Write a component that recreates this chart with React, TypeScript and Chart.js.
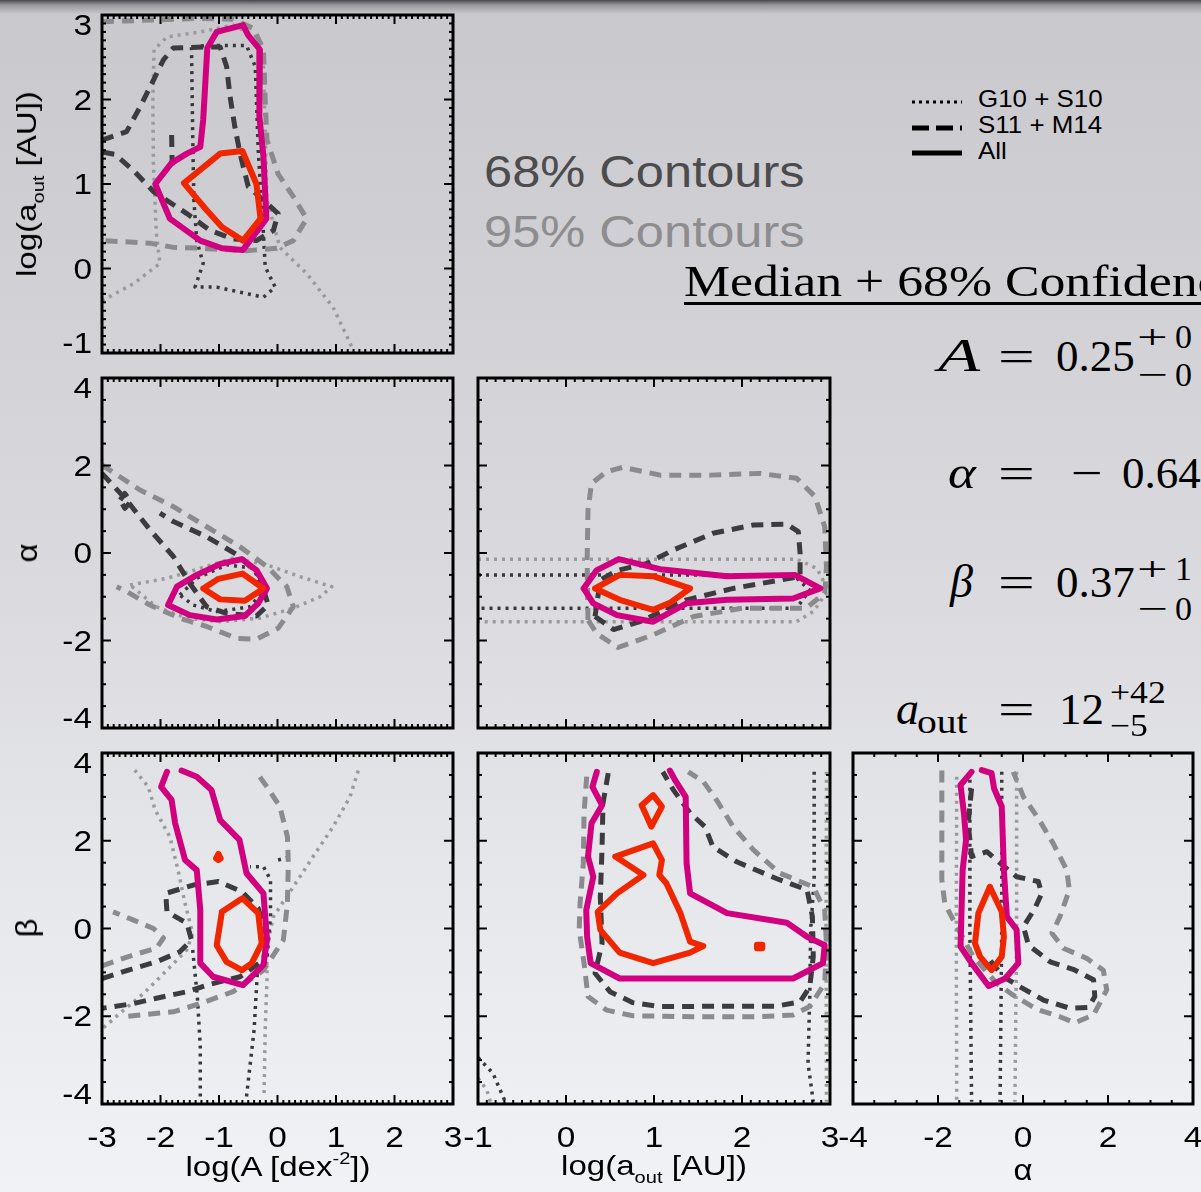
import React, { useEffect, useRef } from "react";
import { Chart, registerables } from "chart.js";

Chart.register(...registerables);

type Pt = [number, number];

// ---------------- tick labels ----------------
const ticksLogA = [-3, -2, -1, 0, 1, 2, 3];
const ticksLogAoutX = [-1, 0, 1, 2, 3];
const ticksLogAoutY = [3, 2, 1, 0, -1];
const ticksAlphaBetaY = [4, 2, 0, -2, -4];
const ticksAlphaX = [-4, -2, 0, 2, 4];

// ---------------- Panel 1: log(A) vs log(a_out) ----------------
const p1All68: Pt[] = [[-1.60, 1.01], [-0.98, 1.36], [-0.60, 1.39], [-0.36, 1.00], [-0.29, 0.59], [-0.59, 0.33], [-0.95, 0.49], [-1.21, 0.69]];
const p1All95: Pt[] = [[-0.59, 2.88], [-0.50, 2.76], [-0.30, 2.59], [-0.31, 1.80], [-0.24, 1.32], [-0.19, 0.59], [-0.59, 0.22], [-0.95, 0.24], [-1.32, 0.33], [-1.84, 0.59], [-2.09, 1.00], [-1.81, 1.25], [-1.55, 1.36], [-1.32, 1.44], [-1.27, 1.76], [-1.20, 2.61], [-1.04, 2.80]];
const p1Dash68: Pt[] = [[-3.0, 1.52], [-2.58, 1.62], [-2.35, 1.91], [-2.12, 2.23], [-1.95, 2.47], [-1.78, 2.61], [-1.27, 2.62], [-0.98, 2.62], [-0.87, 2.39], [-0.81, 2.03], [-0.73, 1.68], [-0.64, 1.36], [-0.50, 0.97], [0.01, 0.65], [-0.07, 0.45], [-0.36, 0.33], [-0.76, 0.35], [-1.15, 0.45], [-1.55, 0.65], [-2.12, 0.91], [-2.46, 1.16], [-2.78, 1.35], [-3.0, 1.38]];
const p1Dash68b: Pt[] = [[-1.81, 1.58], [-1.80, 1.22]];
const p1Dash95: Pt[] = [[-3.0, 2.92], [-2.18, 2.94], [-1.32, 2.96], [-0.76, 2.95], [-0.41, 2.84], [-0.24, 2.59], [-0.21, 1.99], [-0.18, 1.52], [0.01, 1.12], [0.27, 0.85], [0.50, 0.59], [0.27, 0.33], [-0.01, 0.24], [-0.53, 0.21], [-1.32, 0.24], [-1.78, 0.25], [-2.18, 0.30], [-3.0, 0.33]];
const p1Dot68: Pt[] = [[-1.47, 2.62], [-1.45, 1.60], [-1.43, 0.81], [-1.38, 0.33], [-1.27, 0.06], [-1.41, -0.22], [-1.04, -0.22], [-0.64, -0.28], [-0.24, -0.34], [-0.04, -0.22], [-0.21, 0.02], [-0.24, 0.41], [-0.33, 1.40], [-0.38, 2.39], [-0.53, 2.64], [-1.21, 2.64]];
const p1Dot95: Pt[] = [[-3.0, -0.38], [-2.46, -0.18], [-2.01, 0.06], [-2.07, 0.41], [-2.12, 1.20], [-2.13, 1.99], [-2.11, 2.59], [-1.89, 2.74], [-1.32, 2.80], [-0.76, 2.88], [-0.36, 2.74], [-0.24, 2.39], [-0.21, 1.60], [-0.18, 0.81], [0.04, 0.25], [0.50, -0.06], [0.95, -0.46], [1.30, -0.97]];

// ---------------- Panel 2: log(A) vs alpha ----------------
const p2All68: Pt[] = [[-1.27, -0.81], [-1.01, -0.59], [-0.60, -0.47], [-0.24, -0.81], [-0.56, -1.09], [-0.98, -1.06]];
const p2All95: Pt[] = [[-1.87, -1.19], [-1.72, -0.77], [-1.38, -0.50], [-0.98, -0.25], [-0.61, -0.14], [-0.36, -0.39], [-0.18, -0.81], [-0.33, -1.15], [-0.56, -1.44], [-1.04, -1.52], [-1.50, -1.42]];
const p2Dash68: Pt[] = [[-3.0, 1.82], [-2.58, 1.21], [-2.18, 0.53], [-1.78, -0.08], [-1.50, -0.69], [-1.21, -1.23], [-0.87, -1.38], [-0.36, -1.44], [-0.16, -1.19], [-0.30, -0.54], [-0.64, -0.08], [-1.21, 0.37], [-1.78, 0.72], [-2.01, 0.91]];
const p2Dash68b: Pt[] = [[-2.69, 1.21], [-2.61, 1.36], [-2.51, 1.17], [-2.61, 1.02]];
const p2Dash95: Pt[] = [[-3.0, 2.01], [-2.35, 1.44], [-1.78, 1.06], [-1.21, 0.60], [-0.64, 0.14], [-0.18, -0.31], [0.16, -0.77], [0.27, -1.23], [0.01, -1.72], [-0.36, -1.97], [-0.70, -1.95], [-1.21, -1.68], [-1.67, -1.49], [-2.18, -1.19], [-2.58, -0.88], [-2.75, -0.77]];
const p2Dot68: Pt[] = [[-1.67, -0.96], [-1.38, -0.58], [-0.87, -0.27], [-0.41, -0.35], [-0.24, -0.85], [-0.47, -1.23], [-1.04, -1.34], [-1.44, -1.19]];
const p2Dot95: Pt[] = [[-2.52, -0.73], [-1.89, -0.58], [-1.32, -0.35], [-0.76, -0.12], [-0.18, -0.27], [0.38, -0.54], [0.93, -0.77], [0.73, -1.00], [0.27, -1.26], [-0.30, -1.49], [-0.98, -1.57], [-1.55, -1.49], [-2.07, -1.23]];

// ---------------- Panel 3: log(a_out) vs alpha ----------------
const p3All68: Pt[] = [[0.33, -0.81], [0.61, -0.50], [0.99, -0.53], [1.41, -0.81], [1.18, -1.14], [0.99, -1.30], [0.61, -1.07]];
const p3All95: Pt[] = [[0.20, -0.81], [0.35, -0.39], [0.60, -0.14], [1.07, -0.37], [1.83, -0.53], [2.60, -0.50], [2.89, -0.81], [2.58, -1.04], [1.83, -1.07], [1.37, -1.15], [0.99, -1.57], [0.58, -1.42], [0.31, -1.15]];
const p3Dash68: Pt[] = [[0.33, -1.45], [0.54, -1.75], [0.84, -1.57], [1.37, -1.07], [1.90, -0.81], [2.43, -0.62], [2.66, -0.54], [2.66, -0.01], [2.64, 0.49], [2.51, 0.66], [2.13, 0.64], [1.67, 0.45], [1.22, 0.07], [0.92, -0.24], [0.58, -0.40], [0.39, -0.62]];
const p3Dash95: Pt[] = [[0.25, -1.53], [0.24, -0.16], [0.25, 0.98], [0.29, 1.59], [0.46, 1.86], [0.65, 1.96], [1.07, 1.78], [1.64, 1.78], [2.20, 1.82], [2.62, 1.71], [2.83, 1.29], [2.94, 0.60], [2.96, -0.31], [2.94, -0.92], [2.73, -1.26], [2.01, -1.26], [1.45, -1.45], [0.99, -1.87], [0.59, -2.16], [0.35, -1.84]];
const p3Dot68: Pt[] = [[-1.0, -0.50], [2.58, -0.50], [2.77, -0.85], [2.62, -1.26], [-1.0, -1.26]];
const p3Dot95: Pt[] = [[-1.0, -0.14], [2.62, -0.14], [2.85, -0.35], [2.98, -0.85], [2.81, -1.34], [2.62, -1.57], [-1.0, -1.57]];

// ---------------- Panel 4: log(A) vs beta ----------------
const p4All68: Pt[] = [[-0.95, 0.38], [-0.60, 0.69], [-0.33, 0.35], [-0.27, -0.34], [-0.44, -0.79], [-0.61, -0.95], [-0.87, -0.76], [-1.04, -0.38]];
const p4All68b: Pt[] = [[-1.05, 1.60], [-1.01, 1.70], [-0.97, 1.60], [-1.01, 1.56]];
const p4All95: Pt[] = [[-1.89, 3.57], [-1.99, 3.23], [-1.81, 2.93], [-1.75, 2.40], [-1.58, 1.56], [-1.38, 1.33], [-1.32, 0.42], [-1.32, -0.79], [-1.10, -1.10], [-0.59, -1.29], [-0.24, -0.83], [-0.18, -0.26], [-0.24, 0.80], [-0.53, 1.26], [-0.65, 2.02], [-0.98, 2.47], [-1.13, 3.16], [-1.38, 3.46], [-1.64, 3.60]];
const p4Dash68: Pt[] = [[-3.0, -1.14], [-2.46, -0.91], [-2.07, -0.76], [-1.67, -0.53], [-1.47, -0.26], [-1.55, 0.12], [-1.89, 0.38], [-1.91, 0.80], [-1.44, 0.99], [-1.01, 1.07], [-0.61, 0.84], [-0.33, 0.46], [-0.18, -0.19], [-0.24, -0.72], [-0.64, -1.10], [-1.15, -1.27], [-1.55, -1.44], [-2.07, -1.59], [-2.46, -1.71], [-3.0, -1.82]];
const p4Dash95a: Pt[] = [[-3.0, -0.85], [-2.46, -0.60], [-2.07, -0.45], [-1.95, -0.22], [-2.12, 0.0], [-2.46, 0.19], [-2.81, 0.38]];
const p4Dash95b: Pt[] = [[-2.55, -2.00], [-2.35, -1.97], [-1.78, -1.90], [-1.32, -1.71], [-0.76, -1.44], [-0.24, -0.95], [0.10, -0.26], [0.17, 0.57], [0.185, 1.49], [0.17, 2.09], [0.04, 2.78], [-0.18, 3.23], [-0.38, 3.60]];
const p4Dot68a: Pt[] = [[-1.32, -3.83], [-1.32, -2.69], [-1.37, -1.55], [-1.45, -0.49]];
const p4Dot68b: Pt[] = [[-0.53, -3.83], [-0.40, -2.31], [-0.345, -1.02], [-0.18, -0.72], [-0.12, 0.27], [-0.12, 1.11], [-0.24, 1.41], [-0.47, 1.41]];
const p4Dot68c: Pt[] = [[0.01, 1.56], [0.27, 1.65]];
const p4Dot95a: Pt[] = [[-2.44, 3.61], [-2.21, 3.23], [-2.09, 2.70], [-1.84, 2.09], [-1.70, 1.33], [-1.58, 0.57], [-1.45, -0.11], [-1.55, -0.49], [-1.89, -0.95], [-2.29, -1.48], [-2.69, -1.93], [-3.0, -2.29]];
const p4Dot95b: Pt[] = [[1.38, 3.60], [1.24, 3.00], [0.95, 2.32], [0.61, 1.64], [0.27, 0.95], [-0.07, 0.27], [-0.18, -0.41], [-0.18, -1.17], [-0.21, -2.31], [-0.23, -3.83]];

// ---------------- Panel 5: log(a_out) vs beta ----------------
const p5All68: Pt[] = [[0.56, 1.64], [0.99, 1.94], [1.09, 1.56], [1.06, 1.22], [1.14, 1.03], [1.30, 0.35], [1.41, -0.30], [1.56, -0.40], [1.41, -0.55], [0.99, -0.79], [0.61, -0.55], [0.39, -0.03], [0.36, 0.38], [0.58, 0.80], [0.88, 1.22]];
const p5All68b: Pt[] = [[0.86, 2.81], [0.99, 3.04], [1.09, 2.78], [0.97, 2.32]];
const p5All68c: Pt[] = [[2.17, -0.37], [2.23, -0.37], [2.23, -0.45], [2.17, -0.45]];
const p5All95: Pt[] = [[0.35, 3.57], [0.30, 3.23], [0.41, 2.81], [0.29, 2.40], [0.25, 1.64], [0.31, 1.18], [0.23, 0.42], [0.24, -0.19], [0.28, -0.79], [0.61, -1.14], [1.83, -1.14], [2.58, -1.14], [2.92, -0.79], [2.94, -0.38], [2.74, -0.19], [2.51, 0.13], [1.83, 0.35], [1.41, 0.80], [1.37, 1.49], [1.36, 3.00], [1.24, 3.38], [1.18, 3.60]];
const p5Dash68: Pt[] = [[0.48, 3.54], [0.42, 2.85], [0.41, 1.86], [0.39, 0.72], [0.41, -0.34], [0.33, -1.02], [0.50, -1.44], [0.76, -1.69], [1.07, -1.78], [1.83, -1.77], [2.39, -1.77], [2.66, -1.67], [2.77, -1.33], [2.81, -0.64], [2.80, 0.27], [2.74, 0.88], [2.39, 1.14], [1.94, 1.52], [1.67, 1.86], [1.58, 2.32], [1.41, 2.63], [1.22, 3.16], [1.10, 3.57]];
const p5Dash95: Pt[] = [[0.235, 3.46], [0.205, 2.63], [0.197, 1.49], [0.16, 0.57], [0.15, -0.03], [0.205, -0.79], [0.25, -1.55], [0.46, -1.86], [0.76, -1.99], [1.45, -2.01], [2.20, -2.01], [2.58, -1.97], [2.77, -1.78], [2.94, -1.25], [2.96, -0.41], [2.94, 0.42], [2.81, 0.95], [2.43, 1.26], [2.13, 1.79], [1.90, 2.32], [1.71, 2.93], [1.56, 3.35], [1.39, 3.57]];
const p5Dot68a: Pt[] = [[2.82, 3.57], [2.82, 1.11], [2.78, -0.03], [2.77, -1.55], [2.75, -3.07], [2.81, -3.95]];
const p5Dot68b: Pt[] = [[-1.0, -2.94], [-0.83, -3.30], [-0.69, -3.95]];
const p5Dot95a: Pt[] = [[2.96, 3.57], [2.955, -0.03], [2.96, -3.95]];
const p5Dot95b: Pt[] = [[-1.0, -3.41], [-0.90, -3.68], [-0.86, -3.95]];

// ---------------- Panel 6: alpha vs beta ----------------
const p6All68: Pt[] = [[-0.78, 0.95], [-0.50, 0.38], [-0.45, -0.19], [-0.50, -0.64], [-0.74, -0.95], [-1.01, -0.64], [-1.13, -0.34], [-1.05, 0.35]];
const p6All95: Pt[] = [[-1.21, 3.57], [-1.47, 3.27], [-1.39, 2.63], [-1.34, 2.02], [-1.42, 1.33], [-1.47, -0.41], [-1.21, -0.79], [-0.81, -1.31], [-0.42, -1.14], [-0.11, -0.79], [-0.15, -0.03], [-0.38, 0.27], [-0.45, 1.33], [-0.50, 2.78], [-0.68, 3.19], [-0.74, 3.54], [-0.97, 3.61]];
const p6Dash68: Pt[] = [[-1.21, 3.19], [-1.29, 2.40], [-1.21, 1.64], [-0.85, 1.75], [-0.54, 1.49], [-0.15, 1.18], [0.36, 1.07], [0.44, 0.80], [0.28, 0.46], [0.01, 0.04], [0.13, -0.38], [0.64, -0.76], [1.18, -0.93], [1.66, -1.17], [1.69, -1.55], [1.54, -1.80], [1.11, -1.82], [0.48, -1.63], [-0.07, -1.33], [-0.46, -1.10], [-0.78, -0.72]];
const p6Dash95: Pt[] = [[-1.91, 3.60], [-1.91, 2.25], [-1.91, 1.11], [-1.84, 0.57], [-1.60, 0.12], [-1.17, -0.64], [-0.62, -1.25], [-0.23, -1.52], [0.32, -1.84], [0.87, -2.01], [1.22, -2.15], [1.66, -1.97], [1.97, -1.40], [1.89, -0.95], [1.50, -0.68], [0.95, -0.45], [0.68, -0.11], [0.87, 0.27], [1.09, 0.88], [1.03, 1.33], [0.71, 1.94], [0.36, 2.51], [0.01, 3.00], [-0.23, 3.57]];
const p6Dot68a: Pt[] = [[-1.25, 3.57], [-1.25, 0.0], [-1.21, -3.95]];
const p6Dot68b: Pt[] = [[-0.50, 3.57], [-0.50, 0.0], [-0.54, -3.95]];
const p6Dot95a: Pt[] = [[-1.56, 3.46], [-1.57, 0.0], [-1.56, -3.95]];
const p6Dot95b: Pt[] = [[-0.15, 3.57], [-0.15, 0.0], [-0.19, -3.95]];

// ---------------- styles ----------------
type StyleKey = "all68" | "all95" | "dash68" | "dash95" | "dot68" | "dot95";
const STYLES: Record<StyleKey, { color: string; width: number; dash: number[]; cap: "butt" | "round" }> = {
  all68: { color: "#ef2600", width: 6, dash: [], cap: "round" },
  all95: { color: "#d1007e", width: 6, dash: [], cap: "round" },
  dash68: { color: "#3c3c3e", width: 5, dash: [12, 8], cap: "butt" },
  dash95: { color: "#8b8b8d", width: 5, dash: [12, 8], cap: "butt" },
  dot68: { color: "#38383a", width: 3.5, dash: [3, 5], cap: "butt" },
  dot95: { color: "#9a9a9c", width: 3.5, dash: [3, 5], cap: "butt" },
};
const DRAW_ORDER: StyleKey[] = ["all68", "all95", "dash68", "dash95", "dot68", "dot95"];

interface Series { pts: Pt[]; style: StyleKey; closed?: boolean }
interface Panel {
  id: string; left: number; top: number; w: number; h: number;
  xMin: number; xMax: number; yMin: number; yMax: number;
  xMinor: number; xMajor: number; yMinor: number; yMajor: number;
  xLabels?: number[]; yLabels?: number[]; series: Series[];
}

const PANELS: Panel[] = [
  {
    id: "p1", left: 102, top: 15, w: 351, h: 338, xMin: -3, xMax: 3, yMin: -1, yMax: 3,
    xMinor: 0.1, xMajor: 1, yMinor: 0.1, yMajor: 1, yLabels: ticksLogAoutY,
    series: [
      { pts: p1All68, style: "all68", closed: true }, { pts: p1All95, style: "all95", closed: true },
      { pts: p1Dash68, style: "dash68" }, { pts: p1Dash68b, style: "dash68" }, { pts: p1Dash95, style: "dash95" },
      { pts: p1Dot68, style: "dot68", closed: true }, { pts: p1Dot95, style: "dot95" },
    ],
  },
  {
    id: "p2", left: 102, top: 378, w: 351, h: 350, xMin: -3, xMax: 3, yMin: -4, yMax: 4,
    xMinor: 0.1, xMajor: 1, yMinor: 0.5, yMajor: 2, yLabels: ticksAlphaBetaY,
    series: [
      { pts: p2All68, style: "all68", closed: true }, { pts: p2All95, style: "all95", closed: true },
      { pts: p2Dash68, style: "dash68" }, { pts: p2Dash68b, style: "dash68", closed: true }, { pts: p2Dash95, style: "dash95" },
      { pts: p2Dot68, style: "dot68", closed: true }, { pts: p2Dot95, style: "dot95", closed: true },
    ],
  },
  {
    id: "p3", left: 478, top: 378, w: 352, h: 350, xMin: -1, xMax: 3, yMin: -4, yMax: 4,
    xMinor: 0.1, xMajor: 1, yMinor: 0.5, yMajor: 2,
    series: [
      { pts: p3All68, style: "all68", closed: true }, { pts: p3All95, style: "all95", closed: true },
      { pts: p3Dash68, style: "dash68", closed: true }, { pts: p3Dash95, style: "dash95", closed: true },
      { pts: p3Dot68, style: "dot68" }, { pts: p3Dot95, style: "dot95" },
    ],
  },
  {
    id: "p4", left: 102, top: 753, w: 351, h: 351, xMin: -3, xMax: 3, yMin: -4, yMax: 4,
    xMinor: 0.1, xMajor: 1, yMinor: 0.5, yMajor: 2, xLabels: ticksLogA, yLabels: ticksAlphaBetaY,
    series: [
      { pts: p4All68, style: "all68", closed: true }, { pts: p4All68b, style: "all68", closed: true },
      { pts: p4All95, style: "all95" },
      { pts: p4Dash68, style: "dash68" }, { pts: p4Dash95a, style: "dash95" }, { pts: p4Dash95b, style: "dash95" },
      { pts: p4Dot68a, style: "dot68" }, { pts: p4Dot68b, style: "dot68" }, { pts: p4Dot68c, style: "dot68" },
      { pts: p4Dot95a, style: "dot95" }, { pts: p4Dot95b, style: "dot95" },
    ],
  },
  {
    id: "p5", left: 478, top: 753, w: 352, h: 351, xMin: -1, xMax: 3, yMin: -4, yMax: 4,
    xMinor: 0.1, xMajor: 1, yMinor: 0.5, yMajor: 2, xLabels: ticksLogAoutX,
    series: [
      { pts: p5All68, style: "all68", closed: true }, { pts: p5All68b, style: "all68", closed: true },
      { pts: p5All68c, style: "all68", closed: true }, { pts: p5All95, style: "all95" },
      { pts: p5Dash68, style: "dash68" }, { pts: p5Dash95, style: "dash95" },
      { pts: p5Dot68a, style: "dot68" }, { pts: p5Dot68b, style: "dot68" },
      { pts: p5Dot95a, style: "dot95" }, { pts: p5Dot95b, style: "dot95" },
    ],
  },
  {
    id: "p6", left: 853, top: 753, w: 340, h: 351, xMin: -4, xMax: 4, yMin: -4, yMax: 4,
    xMinor: 0.5, xMajor: 2, yMinor: 0.5, yMajor: 2, xLabels: ticksAlphaX,
    series: [
      { pts: p6All68, style: "all68", closed: true }, { pts: p6All95, style: "all95" },
      { pts: p6Dash68, style: "dash68" }, { pts: p6Dash95, style: "dash95" },
      { pts: p6Dot68a, style: "dot68" }, { pts: p6Dot68b, style: "dot68" },
      { pts: p6Dot95a, style: "dot95" }, { pts: p6Dot95b, style: "dot95" },
    ],
  },
];

const SANS = '"Liberation Sans", Arial, Helvetica, sans-serif';
const SERIF = '"Liberation Serif", "Times New Roman", Times, serif';
const STRETCH = 1.15;

function PanelChart({ p }: { p: Panel }) {
  const ref = useRef<HTMLCanvasElement>(null);
  const padL = p.yLabels ? 100 : 30;
  const padT = 12;
  const padR = 20;
  const padB = p.xLabels ? 60 : 12;
  const cw = p.w + padL + padR;
  const ch = p.h + padT + padB;

  useEffect(() => {
    const canvas = ref.current;
    if (!canvas) return;
    const sorted = [...p.series].sort((a, b) => DRAW_ORDER.indexOf(a.style) - DRAW_ORDER.indexOf(b.style));
    const datasets = sorted.map((s) => {
      const st = STYLES[s.style];
      const pts = s.closed ? [...s.pts, s.pts[0]] : s.pts;
      return {
        data: pts.map(([x, y]) => ({ x, y })),
        showLine: true,
        pointRadius: 0,
        pointHoverRadius: 0,
        borderColor: st.color,
        backgroundColor: st.color,
        borderWidth: st.width,
        borderDash: st.dash,
        borderCapStyle: st.cap,
        borderJoinStyle: "round",
        tension: 0,
        fill: false,
        clip: 0,
      };
    });

    const frame = {
      id: "frame" + p.id,
      afterDatasetsDraw(chart: any) {
        const { ctx, chartArea: a } = chart;
        const xs = chart.scales.x;
        const ys = chart.scales.y;
        ctx.save();
        ctx.strokeStyle = "#000";
        ctx.lineCap = "butt";
        const seg = (x1: number, y1: number, x2: number, y2: number) => {
          ctx.beginPath();
          ctx.moveTo(x1, y1);
          ctx.lineTo(x2, y2);
          ctx.stroke();
        };
        ctx.lineWidth = 2;
        const nx = Math.round((p.xMax - p.xMin) / p.xMinor);
        for (let i = 0; i <= nx; i++) {
          const v = p.xMin + i * p.xMinor;
          const r = v / p.xMajor;
          const major = Math.abs(r - Math.round(r)) < 1e-6;
          const len = major ? 9 : 4;
          const px = xs.getPixelForValue(v);
          seg(px, a.bottom, px, a.bottom - len);
          seg(px, a.top, px, a.top + len);
        }
        const ny = Math.round((p.yMax - p.yMin) / p.yMinor);
        for (let i = 0; i <= ny; i++) {
          const v = p.yMin + i * p.yMinor;
          const r = v / p.yMajor;
          const major = Math.abs(r - Math.round(r)) < 1e-6;
          const len = major ? 9 : 4;
          const py = ys.getPixelForValue(v);
          seg(a.left, py, a.left + len, py);
          seg(a.right, py, a.right - len, py);
        }
        ctx.lineWidth = 3;
        ctx.strokeRect(a.left, a.top, a.right - a.left, a.bottom - a.top);

        ctx.fillStyle = "#000";
        ctx.font = "29px " + SANS;
        ctx.textBaseline = "alphabetic";
        if (p.xLabels) {
          ctx.textAlign = "center";
          p.xLabels.forEach((v) => {
            const px = xs.getPixelForValue(v);
            ctx.save();
            ctx.translate(px, a.bottom + 43);
            ctx.scale(STRETCH, 1);
            ctx.fillText(String(v), 0, 0);
            ctx.restore();
          });
        }
        if (p.yLabels) {
          ctx.textAlign = "right";
          p.yLabels.forEach((v) => {
            let py = ys.getPixelForValue(v);
            py = Math.min(Math.max(py, a.top + 10), a.bottom - 10);
            ctx.save();
            ctx.translate(a.left - 10, py + 10);
            ctx.scale(STRETCH, 1);
            ctx.fillText(String(v), 0, 0);
            ctx.restore();
          });
        }
        ctx.restore();
      },
    };

    const chart = new Chart(canvas, {
      type: "scatter",
      data: { datasets } as any,
      options: {
        animation: false,
        responsive: false,
        maintainAspectRatio: false,
        events: [],
        layout: { padding: { left: padL, top: padT, right: padR, bottom: padB } },
        plugins: { legend: { display: false }, tooltip: { enabled: false } },
        scales: {
          x: { type: "linear", min: p.xMin, max: p.xMax, display: false },
          y: { type: "linear", min: p.yMin, max: p.yMax, display: false },
        },
      } as any,
      plugins: [frame],
    });
    return () => chart.destroy();
  }, [p]);

  return (
    <canvas
      ref={ref}
      width={cw}
      height={ch}
      style={{ position: "absolute", left: p.left - padL, top: p.top - padT, width: cw, height: ch }}
    />
  );
}

function Txt(props: {
  x: number; base: number; size: number; font?: string; color?: string;
  align?: "left" | "center"; sx?: number; italic?: boolean; style?: React.CSSProperties; children: React.ReactNode;
}) {
  const font = props.font || SANS;
  const asc = font === SERIF ? 0.8375 : 0.8465;
  const sx = props.sx ?? 1;
  const st: React.CSSProperties = {
    position: "absolute",
    top: props.base - asc * props.size,
    fontFamily: font,
    fontSize: props.size,
    lineHeight: 1,
    color: props.color || "#000",
    whiteSpace: "nowrap",
    fontStyle: props.italic ? "italic" : "normal",
    transformOrigin: props.align === "center" ? "50% 50%" : "0 50%",
    transform: sx !== 1 ? `scaleX(${sx})` : undefined,
    ...props.style,
  };
  if (props.align === "center") {
    st.left = props.x - 400;
    st.width = 800;
    st.textAlign = "center";
  } else {
    st.left = props.x;
  }
  return <div style={st}>{props.children}</div>;
}

function RotTitle(props: { cx: number; cy: number; size: number; sx?: number; children: React.ReactNode }) {
  return (
    <div
      style={{
        position: "absolute",
        left: props.cx,
        top: props.cy,
        fontFamily: SANS,
        fontSize: props.size,
        lineHeight: 1,
        whiteSpace: "nowrap",
        color: "#000",
        transform: `translate(-50%, -50%) rotate(-90deg) scaleX(${props.sx ?? 1})`,
      }}
    >
      {props.children}
    </div>
  );
}

const sub = (size: number, dy: number): React.CSSProperties => ({ fontSize: size, position: "relative", top: dy });

export default function App() {
  return (
    <div
      style={{
        position: "absolute",
        left: 0,
        top: 0,
        width: 1201,
        height: 1192,
        overflow: "hidden",
        background: "linear-gradient(to bottom, #c9c8cd 0px, #d0cfd4 250px, #dbdbdf 600px, #e7e8ec 900px, #f0f2f6 1192px)",
      }}
    >
      <div
        style={{
          position: "absolute", left: 0, top: 0, width: 1201, height: 14,
          background: "linear-gradient(to bottom, rgba(50,50,55,0.85) 0px, rgba(90,90,95,0.45) 5px, rgba(200,199,204,0) 14px)",
        }}
      />

      {PANELS.map((p) => (
        <PanelChart key={p.id} p={p} />
      ))}

      {/* axis titles */}
      <Txt x={278} base={1177} size={28} align="center" sx={1.18}>
        log(A [dex<span style={sub(17, -12)}>-2</span>])
      </Txt>
      <Txt x={654} base={1176} size={28} align="center" sx={1.18}>
        log(a<span style={sub(17, 8)}>out</span> [AU])
      </Txt>
      <Txt x={1023} base={1180} size={30} align="center" sx={1.1}>
        α
      </Txt>
      <RotTitle cx={27} cy={184} size={28} sx={1.18}>
        log(a<span style={sub(17, 8)}>out</span> [AU])
      </RotTitle>
      <RotTitle cx={27} cy={553} size={30} sx={1.1}>
        α
      </RotTitle>
      <RotTitle cx={27} cy={928} size={30} sx={1.1}>
        β
      </RotTitle>

      {/* contour level labels */}
      <Txt x={484} base={187} size={44} color="#4c4c4e" sx={STRETCH}>68% Contours</Txt>
      <Txt x={484} base={247} size={44} color="#8d8d8f" sx={STRETCH}>95% Contours</Txt>

      {/* legend */}
      <svg style={{ position: "absolute", left: 905, top: 90 }} width={70} height={75}>
        <line x1={7} y1={12} x2={57} y2={12} stroke="#000" strokeWidth={3} strokeDasharray="3 4" />
        <line x1={7} y1={38} x2={57} y2={38} stroke="#000" strokeWidth={5} strokeDasharray="17 7" />
        <line x1={7} y1={63} x2={57} y2={63} stroke="#000" strokeWidth={5} />
      </svg>
      <Txt x={978} base={107} size={24} sx={1.08}>G10 + S10</Txt>
      <Txt x={978} base={133} size={24} sx={1.08}>S11 + M14</Txt>
      <Txt x={978} base={159} size={24} sx={1.08}>All</Txt>

      {/* median + confidence */}
      <Txt
        x={684}
        base={297}
        size={45}
        font={SERIF}
        sx={STRETCH}
        style={{ textDecoration: "underline", textDecorationThickness: "3px", textUnderlineOffset: "6px" }}
      >
        Median + 68% Confidence Intervals
      </Txt>

      {/* equation 1 */}
      <Txt x={938} base={372} size={46} font={SERIF} italic sx={1.5}>A</Txt>
      <Txt x={998} base={372} size={45} font={SERIF} sx={1.45}>=</Txt>
      <Txt x={1056} base={372} size={45} font={SERIF}>0.25</Txt>
      <Txt x={1137} base={348} size={34} font={SERIF} sx={1.6}>+</Txt>
      <Txt x={1175} base={348} size={34} font={SERIF}>0</Txt>
      <Txt x={1137} base={386} size={34} font={SERIF} sx={1.6}>−</Txt>
      <Txt x={1175} base={386} size={34} font={SERIF}>0</Txt>

      {/* equation 2 */}
      <Txt x={948} base={489} size={46} font={SERIF} italic sx={1.15}>α</Txt>
      <Txt x={998} base={489} size={45} font={SERIF} sx={1.45}>=</Txt>
      <Txt x={1071} base={489} size={45} font={SERIF} sx={1.25}>−</Txt>
      <Txt x={1122} base={489} size={45} font={SERIF}>0.64</Txt>

      {/* equation 3 */}
      <Txt x={950} base={598} size={46} font={SERIF} italic>β</Txt>
      <Txt x={998} base={598} size={45} font={SERIF} sx={1.45}>=</Txt>
      <Txt x={1056} base={598} size={45} font={SERIF}>0.37</Txt>
      <Txt x={1137} base={580} size={34} font={SERIF} sx={1.6}>+</Txt>
      <Txt x={1175} base={580} size={34} font={SERIF}>1</Txt>
      <Txt x={1137} base={620} size={34} font={SERIF} sx={1.6}>−</Txt>
      <Txt x={1175} base={620} size={34} font={SERIF}>0</Txt>

      {/* equation 4 */}
      <Txt x={896} base={725} size={46} font={SERIF} italic>a</Txt>
      <Txt x={917} base={734} size={33} font={SERIF} sx={1.2}>out</Txt>
      <Txt x={998} base={725} size={45} font={SERIF} sx={1.45}>=</Txt>
      <Txt x={1059} base={725} size={45} font={SERIF}>12</Txt>
      <Txt x={1110} base={703} size={31} font={SERIF} sx={1.15}>+42</Txt>
      <Txt x={1110} base={736} size={31} font={SERIF} sx={1.15}>−5</Txt>
    </div>
  );
}
